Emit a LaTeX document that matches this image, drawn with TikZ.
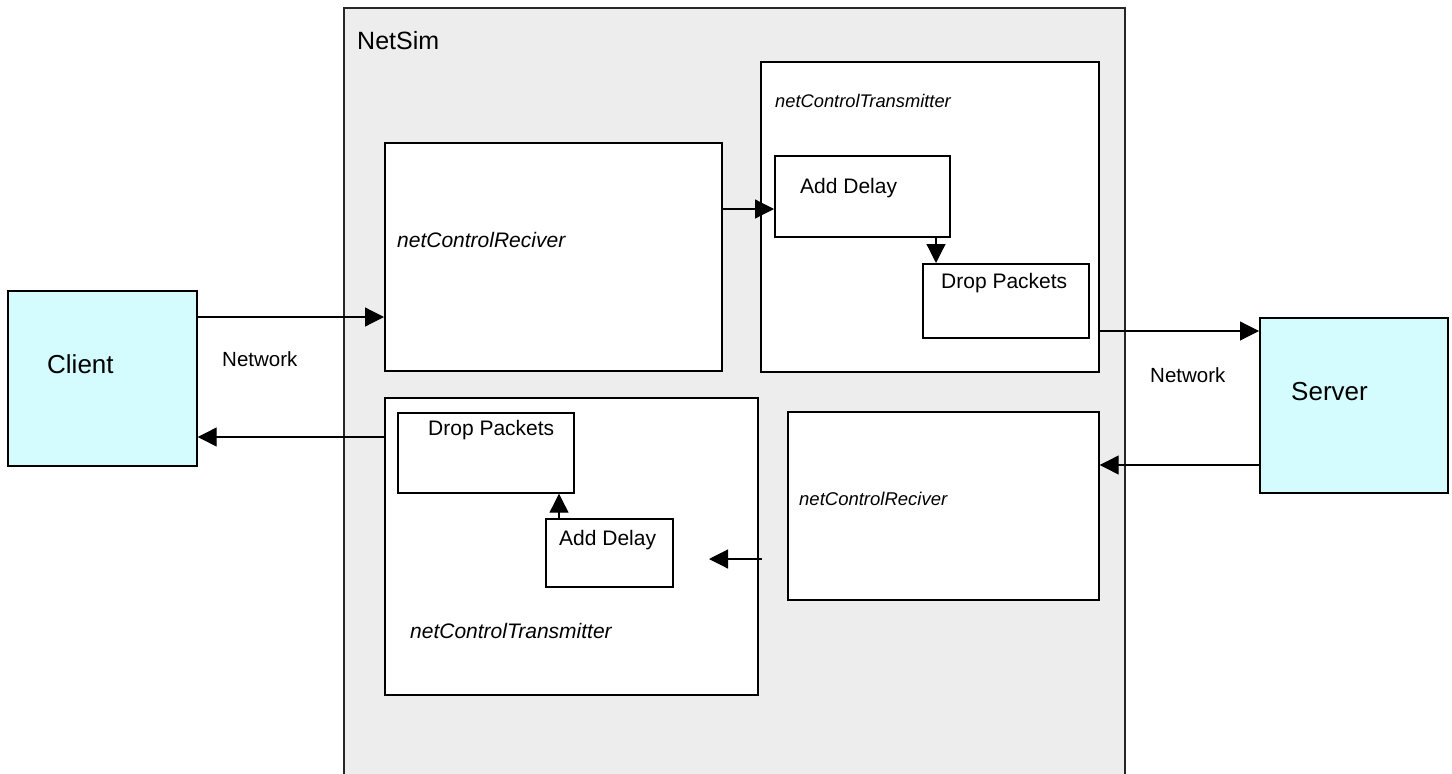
\documentclass[tikz,border=0pt]{standalone}
\usepackage{fontspec}
\setmainfont{Liberation Sans}
\usetikzlibrary{arrows.meta}
\definecolor{simgray}{RGB}{237,237,237}
\definecolor{hostcyan}{RGB}{212,252,255}
\tikzset{
  box/.style={draw=black, line width=1.7pt, fill=white, inner sep=0pt, anchor=north west},
  host/.style={box, fill=hostcyan},
  frame/.style={draw=black!85, line width=1.7pt, fill=simgray, inner sep=0pt, anchor=north west},
  lbl/.style={anchor=base west, inner sep=0pt},
  arr/.style={line width=1.2pt, -{Triangle[length=19pt,width=19pt]}}
}
\begin{document}
\begin{tikzpicture}[x=1pt,y=-1pt]
\useasboundingbox (0,0) rectangle (1452,774);
% NetSim frame
\node[frame, minimum width=781pt, minimum height=770pt] (netsim) at (343,7) {};
\node[lbl, font=\fontsize{25}{30}\selectfont] (netsimlbl) at (357,49) {NetSim};
% hosts
\node[host, minimum width=189pt, minimum height=175pt] (client) at (7,290) {};
\node[lbl, font=\fontsize{26}{31}\selectfont] (clientlbl) at (47,373) {Client};
\node[host, minimum width=188pt, minimum height=175pt] (server) at (1259,317) {};
\node[lbl, font=\fontsize{26}{31}\selectfont] (serverlbl) at (1291,400) {Server};
\node[lbl, font=\fontsize{20.5}{24}\selectfont] (net1) at (222,366) {Network};
\node[lbl, font=\fontsize{20.5}{24}\selectfont] (net2) at (1150,382) {Network};
% top receiver
\node[box, minimum width=337pt, minimum height=228pt] (rxA) at (384,142) {};
\node[lbl, font=\fontsize{21}{25}\selectfont\itshape] (rxAlbl) at (397,247) {netControlReciver};
% top transmitter
\node[box, minimum width=338pt, minimum height=310pt] (txA) at (760,61) {};
\node[lbl, font=\fontsize{18.3}{22}\selectfont\itshape] (txAlbl) at (775,107) {netControlTransmitter};
\node[box, minimum width=175pt, minimum height=81pt] (adA) at (774,155) {};
\node[lbl, font=\fontsize{21}{25}\selectfont] (adAlbl) at (800,193) {Add Delay};
\node[box, minimum width=166pt, minimum height=74pt] (dpA) at (922,263) {};
\node[lbl, font=\fontsize{21}{25}\selectfont] (dpAlbl) at (941,288) {Drop Packets};
% bottom transmitter
\node[box, minimum width=373pt, minimum height=297pt] (txB) at (384,397) {};
\node[lbl, font=\fontsize{21}{25}\selectfont\itshape] (txBlbl) at (410,638) {netControlTransmitter};
\node[box, minimum width=176pt, minimum height=80pt] (dpB) at (397,412) {};
\node[lbl, font=\fontsize{21}{25}\selectfont] (dpBlbl) at (428,435) {Drop Packets};
\node[box, minimum width=127pt, minimum height=68pt] (adB) at (545,518) {};
\node[lbl, font=\fontsize{21}{25}\selectfont] (adBlbl) at (559,545) {Add Delay};
% bottom receiver
\node[box, minimum width=311pt, minimum height=188pt] (rxB) at (787,411) {};
\node[lbl, font=\fontsize{18.5}{22}\selectfont\itshape] (rxBlbl) at (799,505) {netControlReciver};
% connectors
\draw[arr] (client.east |- 0,317) -- (rxA.west |- 0,317);
\draw[arr] (rxA.east |- 0,209) -- (adA.west |- 0,209);
\draw[arr] (adA.south -| 936,0) -- (dpA.north -| 936,0);
\draw[arr] (txA.east |- 0,331) -- (server.west |- 0,331);
\draw[arr] (server.west |- 0,465) -- (rxB.east |- 0,465);
\coordinate (freeS) at (762,559);
\coordinate (freeE) at (709,559);
\draw[arr] (freeS) -- (freeE);
\draw[arr] (adB.north -| 559,0) -- (dpB.south -| 559,0);
\draw[arr] (txB.west |- 0,437) -- (client.east |- 0,437);
\end{tikzpicture}
\end{document}
